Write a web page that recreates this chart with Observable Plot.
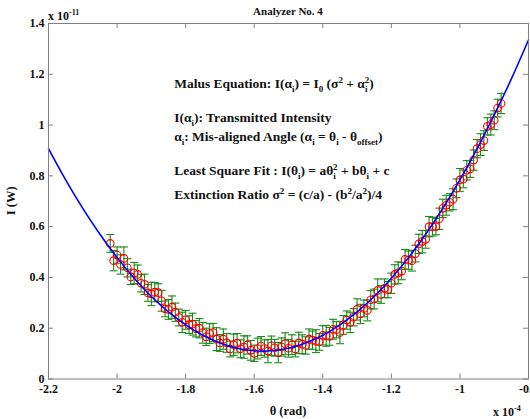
<!DOCTYPE html>
<html>
<head>
<meta charset="utf-8">
<script src="https://cdn.jsdelivr.net/npm/d3@7"></script>
<script src="https://cdn.jsdelivr.net/npm/@observablehq/plot@0.6"></script>
<style>
  html, body { margin: 0; padding: 0; background: #fff; }
  #chart svg { display: block; }
</style>
</head>
<body>
<div id="chart"></div>
<script>
// ---- data (theta in 1e-4 rad, intensity in 1e-11 W) ----
const xTicks = [-2.2, -2, -1.8, -1.6, -1.4, -1.2, -1, -0.8];
const yTicks = [0, 0.2, 0.4, 0.6, 0.8, 1, 1.2, 1.4];

const theta = [
  -2.02,-2.01,-2.00,-1.99,-1.98,-1.97,-1.96,-1.95,-1.94,-1.93,
  -1.92,-1.91,-1.90,-1.89,-1.88,-1.87,-1.86,-1.85,-1.84,-1.83,
  -1.82,-1.81,-1.80,-1.79,-1.78,-1.77,-1.76,-1.75,-1.74,-1.73,
  -1.72,-1.71,-1.70,-1.69,-1.68,-1.67,-1.66,-1.65,-1.64,-1.63,
  -1.62,-1.61,-1.60,-1.59,-1.58,-1.57,-1.56,-1.55,-1.54,-1.53,
  -1.52,-1.51,-1.50,-1.49,-1.48,-1.47,-1.46,-1.45,-1.44,-1.43,
  -1.42,-1.41,-1.40,-1.39,-1.38,-1.37,-1.36,-1.35,-1.34,-1.33,
  -1.32,-1.31,-1.30,-1.29,-1.28,-1.27,-1.26,-1.25,-1.24,-1.23,
  -1.22,-1.21,-1.20,-1.19,-1.18,-1.17,-1.16,-1.15,-1.14,-1.13,
  -1.12,-1.11,-1.10,-1.09,-1.08,-1.07,-1.06,-1.05,-1.04,-1.03,
  -1.02,-1.01,-1.00,-0.99,-0.98,-0.97,-0.96,-0.95,-0.94,-0.93,
  -0.92,-0.91,-0.90,-0.89,-0.88
];
const intensity = [
  0.534,0.466,0.488,0.451,0.475,0.438,0.402,0.417,0.412,0.377,
  0.373,0.339,0.335,0.342,0.340,0.308,0.276,0.274,0.283,0.263,
  0.242,0.223,0.233,0.214,0.216,0.198,0.200,0.182,0.166,0.179,
  0.183,0.157,0.142,0.157,0.142,0.118,0.135,0.141,0.119,0.126,
  0.134,0.113,0.101,0.120,0.130,0.120,0.110,0.131,0.123,0.104,
  0.126,0.139,0.121,0.135,0.118,0.142,0.137,0.132,0.157,0.153,
  0.149,0.146,0.172,0.170,0.168,0.196,0.194,0.183,0.213,0.232,
  0.223,0.243,0.274,0.256,0.278,0.270,0.312,0.315,0.349,0.333,
  0.357,0.352,0.377,0.412,0.418,0.425,0.471,0.468,0.466,0.494,
  0.532,0.541,0.550,0.600,0.600,0.600,0.631,0.672,0.684,0.696,
  0.708,0.751,0.784,0.788,0.822,0.827,0.862,0.907,0.923,0.939,
  0.995,1.002,1.019,1.067,1.085
];
const errorHalf = [
  0.035,0.040,0.032,0.038,0.045,0.036,0.030,0.042,0.037,0.034,
  0.040,0.033,0.046,0.038,0.035,0.041,0.031,0.039,0.044,0.036,
  0.033,0.040,0.037,0.035,0.043,0.032,0.038,0.041,0.034,0.039,
  0.036,0.045,0.033,0.040,0.037,0.031,0.042,0.038,0.035,0.044,
  0.036,0.039,0.032,0.041,0.037,0.034,0.046,0.038,0.033,0.040,
  0.036,0.043,0.035,0.039,0.031,0.042,0.037,0.034,0.040,0.036,
  0.045,0.033,0.038,0.041,0.035,0.039,0.032,0.044,0.037,0.036,
  0.040,0.034,0.042,0.038,0.033,0.041,0.036,0.039,0.045,0.035,
  0.037,0.032,0.040,0.038,0.043,0.034,0.039,0.036,0.041,0.033,
  0.038,0.044,0.035,0.040,0.037,0.032,0.042,0.036,0.039,0.034,
  0.041,0.037,0.045,0.035,0.038,0.033,0.040,0.036,0.043,0.039,
  0.034,0.041,0.037,0.035,0.040
];
const fitTheta = [-2.2,-2.15,-2.1,-2.05,-2,-1.95,-1.9,-1.85,-1.8,-1.75,-1.7,-1.65,-1.6,-1.55,
  -1.5,-1.45,-1.4,-1.35,-1.3,-1.25,-1.2,-1.15,-1.1,-1.05,-1,-0.95,-0.9,-0.85,-0.8];
const fitIntensity = [0.907,0.784,0.672,0.570,0.478,0.397,0.325,0.264,0.213,0.172,0.142,0.121,0.111,0.111,
  0.121,0.142,0.172,0.213,0.264,0.325,0.397,0.478,0.570,0.672,0.784,0.907,1.040,1.182,1.335];

const titleText = "Analyzer No. 4";
const xLabel = "θ (rad)";
const yLabel = "I (W)";

// annotation lines: [text, kind] ; kinds: n normal, sub, sup, supback (sup stacked over previous sub)
const notes = [
  [["Malus Equation: I(α","n"],["i","sub"],[") = I","n"],["0","sub"],[" (σ","n"],["2","sup"],[" + α","n"],["i","sub"],["2","supback"],[")","n"]],
  [["I(α","n"],["i","sub"],["): Transmitted Intensity","n"]],
  [["α","n"],["i","sub"],[": Mis-aligned Angle (α","n"],["i","sub"],[" = θ","n"],["i","sub"],[" - θ","n"],["offset","sub"],[")","n"]],
  [["Least Square Fit : I(θ","n"],["i","sub"],[") = aθ","n"],["i","sub"],["2","supback"],[" + bθ","n"],["i","sub"],[" + c","n"]],
  [["Extinction Ratio σ","n"],["2","sup"],[" = (c/a) - (b","n"],["2","sup"],["/a","n"],["2","sup"],[")/4","n"]]
];
const noteX = -1.832;
const noteY = [1.144, 1.011, 0.935, 0.801, 0.706];

// ---- build ----
const rows = theta.map((t, i) => ({theta: t, I: intensity[i], e: errorHalf[i]}));
const fit = fitTheta.map((t, i) => ({theta: t, I: fitIntensity[i]}));

const W = 530, H = 419;
const mL = 48, mR = 2, mT = 23, mB = 40.5;
const fw = W - mL - mR, fh = H - mT - mB;
const green = "#178a17";
const axisGray = "#808080";
const font = "'Liberation Serif', 'Times New Roman', serif";

const capSymbol = {
  draw(ctx, size) {
    const w = Math.sqrt(size / Math.PI);
    ctx.moveTo(-w, 0);
    ctx.lineTo(w, 0);
  }
};

const plot = Plot.plot({
  width: W, height: H,
  marginLeft: mL, marginRight: mR, marginTop: mT, marginBottom: mB,
  x: {domain: [-2.2, -0.8]},
  y: {domain: [0, 1.4]},
  style: {fontFamily: font, fontSize: "12px", fontWeight: "bold", color: "#111", background: "#fff", overflow: "hidden"},
  marks: [
    // error bars
    Plot.ruleX(rows, {x: "theta", y1: d => d.I - d.e, y2: d => d.I + d.e, stroke: green, strokeWidth: 1.1}),
    Plot.dot(rows, {x: "theta", y: d => d.I + d.e, symbol: capSymbol, r: 4, stroke: green, strokeWidth: 1.1, fill: "none"}),
    Plot.dot(rows, {x: "theta", y: d => d.I - d.e, symbol: capSymbol, r: 4, stroke: green, strokeWidth: 1.1, fill: "none"}),
    // data circles
    Plot.dot(rows, {x: "theta", y: "I", r: 3.8, stroke: "#ff0000", strokeWidth: 1.1, fill: "none"}),
    // fit curve
    Plot.line(fit, {x: "theta", y: "I", stroke: "#0000ff", strokeWidth: 1.6, curve: "catmull-rom"}),
    // box & inward ticks
    Plot.frame({stroke: axisGray, strokeWidth: 1}),
    Plot.ruleX(xTicks, {x: d => d, insetTop: fh - 5, stroke: axisGray}),
    Plot.ruleX(xTicks, {x: d => d, insetBottom: fh - 5, stroke: axisGray}),
    Plot.ruleY(yTicks, {y: d => d, insetRight: fw - 5, stroke: axisGray}),
    Plot.ruleY(yTicks, {y: d => d, insetLeft: fw - 5, stroke: axisGray}),
    Plot.axisX({ticks: xTicks, tickSize: 0, tickPadding: 5, tickFormat: d => String(d), label: null}),
    Plot.axisY({ticks: yTicks, tickSize: 0, tickPadding: 4, tickFormat: d => String(d), label: null})
  ]
});

document.getElementById("chart").appendChild(plot);

const svg = d3.select(plot);
const sx = plot.scale("x"), sy = plot.scale("y");
const px = v => sx.apply(v), py = v => sy.apply(v);

function rich(x, y, parts, size) {
  const t = svg.append("text").attr("x", x).attr("y", y)
    .attr("text-anchor", "start")
    .attr("font-family", font).attr("font-weight", "bold").attr("font-size", size)
    .attr("fill", "#111");
  let cur = 0;
  const small = Math.round(size * 0.7);
  const dn = size * 0.28, up = -size * 0.38;
  for (const [s, kind] of parts) {
    const sp = t.append("tspan").text(s);
    if (kind === "n") { sp.attr("dy", -cur).attr("font-size", size); cur = 0; }
    else if (kind === "sub") { sp.attr("dy", dn - cur).attr("font-size", small); cur = dn; }
    else if (kind === "sup") { sp.attr("dy", up - cur).attr("font-size", small); cur = up; }
    else if (kind === "supback") { sp.attr("dy", up - cur).attr("dx", -small * 0.3).attr("font-size", small); cur = up; }
  }
  return t;
}

// annotations
notes.forEach((parts, i) => rich(px(noteX), py(noteY[i]), parts, 13.5));

// title
svg.append("text").attr("x", (mL + W - mR) / 2).attr("y", 15).attr("text-anchor", "middle")
  .attr("font-family", font).attr("font-weight", "bold").attr("font-size", 11).attr("fill", "#111")
  .text(titleText);

// y exponent
rich(mL, 20, [["x 10","n"],["-11","sup"]], 12);
// x exponent
rich(493, 416, [["x 10","n"],["-4","sup"]], 12);

// x label
svg.append("text").attr("x", (mL + W - mR) / 2).attr("y", 415).attr("text-anchor", "middle")
  .attr("font-family", font).attr("font-weight", "bold").attr("font-size", 12.5).attr("fill", "#111")
  .text(xLabel);
// y label
svg.append("text").attr("transform", `translate(15,${(mT + H - mB) / 2}) rotate(-90)`).attr("text-anchor", "middle")
  .attr("font-family", font).attr("font-weight", "bold").attr("font-size", 12.5).attr("fill", "#111")
  .text(yLabel);
</script>
</body>
</html>
